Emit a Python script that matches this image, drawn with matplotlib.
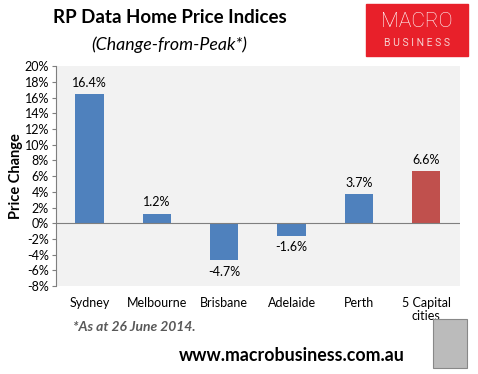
import matplotlib.pyplot as plt
from matplotlib.patches import Rectangle
from matplotlib.ticker import FuncFormatter

cities = ['Sydney', 'Melbourne', 'Brisbane', 'Adelaide', 'Perth', '5 Capital\ncities']
change = [16.4, 1.2, -4.7, -1.6, 3.7, 6.6]
colors = ['#4F81BD'] * 5 + ['#C0504D']
yticks = list(range(-8, 21, 2))

plt.rcParams['font.family'] = ['Lato', 'DejaVu Sans']

fig = plt.figure(figsize=(4.78, 3.74), dpi=100)
ax = fig.add_axes([0.117, 0.235, 0.845, 0.588])
ax.set_facecolor('#F2F2F2')

x = range(len(cities))
ax.bar(x, change, width=0.42, color=colors, zorder=3)
for i, v in zip(x, change):
    off = 0.7 if v >= 0 else -0.7
    ax.text(i, v + off, '{:.1f}%'.format(v), ha='center',
            va='bottom' if v >= 0 else 'top', fontsize=9)

ax.axhline(0, color='#7F7F7F', lw=0.8, zorder=4)
ax.set_xlim(-0.5, len(cities) - 0.5)
ax.set_ylim(-8, 20)
ax.set_yticks(yticks)
ax.yaxis.set_major_formatter(FuncFormatter(lambda v, p: '{:.0f}%'.format(v)))
ax.tick_params(axis='y', labelsize=9, length=3, color='#7F7F7F', pad=2)
ax.tick_params(axis='x', labelsize=9, length=0, pad=8)
ax.set_xticks(list(x))
ax.set_xticklabels(cities, linespacing=1.1)
for s in ['top', 'right', 'bottom']:
    ax.spines[s].set_visible(False)
ax.spines['left'].set_color('#7F7F7F')
ax.set_ylabel('Price Change', fontsize=10.5, fontweight='bold', labelpad=1)

fig.text(0.355, 0.952, 'RP Data Home Price Indices', ha='center', va='center',
         fontsize=13.5, fontweight='bold')
fig.text(0.355, 0.88, '(Change-from-Peak*)', ha='center', va='center',
         fontsize=12.8, style='italic')

# logo box
fig.patches.append(Rectangle((0.766, 0.85), 0.213, 0.14, transform=fig.transFigure,
                             color='#E8202A', zorder=5))
fig.text(0.872, 0.942, 'MACRO', ha='center', va='center', color='white', fontsize=15,
         fontweight='light', family=['Roboto', 'DejaVu Sans'], zorder=6)
fig.text(0.872, 0.885, 'B U S I N E S S', ha='center', va='center', color='#F6D0D0',
         fontsize=7.5, family=['Roboto', 'DejaVu Sans'], zorder=6)

fig.text(0.153, 0.125, '*As at 26 June 2014.', ha='left', va='center', fontsize=10,
         fontweight='bold', style='italic', color='#595959')
fig.text(0.61, 0.05, 'www.macrobusiness.com.au', ha='center', va='center', fontsize=12.8,
         fontweight='bold')
fig.patches.append(Rectangle((0.906, 0.016), 0.071, 0.131, transform=fig.transFigure,
                             facecolor='#BBBBBB', edgecolor='#888888', lw=0.8, zorder=5))

fig.savefig('out.png', dpi=100)
